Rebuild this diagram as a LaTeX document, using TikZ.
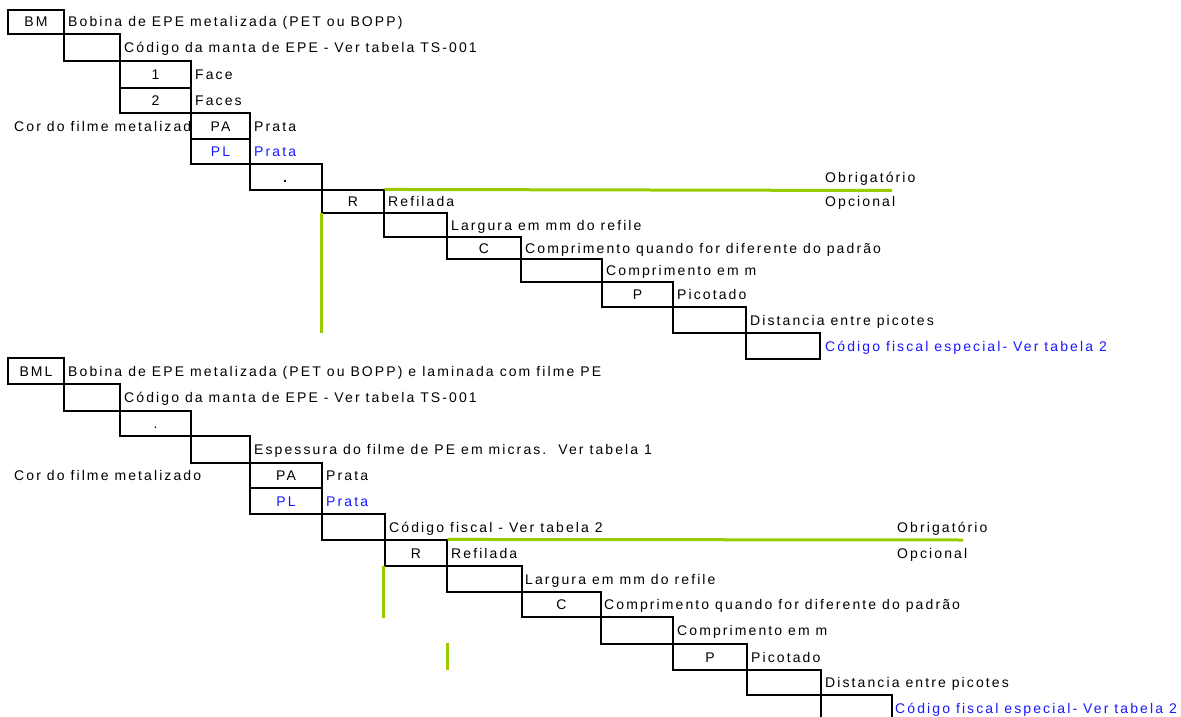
\documentclass[tikz,border=0pt]{standalone}
\usepackage{fontspec}
\setmainfont{Liberation Sans}[LetterSpace=15]
\definecolor{optgreen}{RGB}{153,204,0}
\definecolor{txtblue}{RGB}{25,25,255}
\begin{document}
\begin{tikzpicture}[x=1pt,y=-1pt,
  every node/.style={font=\fontsize{14}{16}\selectfont},
  box/.style={draw=black, line width=1.1pt, inner sep=0pt, text height=10pt, text depth=0pt, anchor=center},
  lbl/.style={anchor=west, inner sep=0pt, text height=10pt, text depth=0pt},
  bl/.style={text=txtblue},
  gline/.style={draw=optgreen, line width=3pt}]
\useasboundingbox (0,0) rectangle (1181,717);
\fill[white] (0,0) rectangle (1181,717);

% ---------------- Block 1 ----------------
\begin{scope}
\clip (0,100) rectangle (190.5,139);
\node[lbl] (a5) at (14,126) {Cor do filme metalizado};
\end{scope}
\node[box, minimum width=56pt, minimum height=24pt] (b1) at (36,22) {BM};
\node[box, minimum width=56pt, minimum height=27pt] (b2) at (92,47.5) {};
\node[box, minimum width=71pt, minimum height=27pt] (b3) at (155.5,74.5) {1};
\node[box, minimum width=71pt, minimum height=25pt] (b4) at (155.5,100.5) {2};
\node[box, minimum width=59pt, minimum height=26pt] (b5) at (220.5,126) {PA};
\node[box, bl, minimum width=59pt, minimum height=25pt] (b6) at (220.5,151.5) {PL};
\node[box, minimum width=72pt, minimum height=26pt] (b7) at (286,177) {\textbf{.}};
\node[box, minimum width=62pt, minimum height=23pt] (b8) at (353,201.5) {R};
\node[box, minimum width=63pt, minimum height=24pt] (b9) at (415.5,225) {};
\node[box, minimum width=74pt, minimum height=22pt] (b10) at (484,248) {C};
\node[box, minimum width=81pt, minimum height=23pt] (b11) at (561.5,270.5) {};
\node[box, minimum width=71pt, minimum height=25pt] (b12) at (637.5,294.5) {P};
\node[box, minimum width=73pt, minimum height=26pt] (b13) at (709.5,320) {};
\node[box, minimum width=74pt, minimum height=26pt] (b14) at (783,346) {};

\node[lbl] (a1) at (68,22) {Bobina de EPE metalizada (PET ou BOPP)};
\node[lbl] (a2) at (124,47.5) {Código da manta de EPE - Ver tabela TS-001};
\node[lbl] (a3) at (195,74.5) {Face};
\node[lbl] (a4) at (195,100.5) {Faces};
\node[lbl] (a6) at (254,126) {Prata};
\node[lbl, bl] (a7) at (254,151.5) {Prata};
\node[lbl] (a8) at (825,177) {Obrigatório};
\node[lbl] (a9) at (388,201.5) {Refilada};
\node[lbl] (a10) at (825,201.5) {Opcional};
\node[lbl] (a11) at (451,225) {Largura em mm do refile};
\node[lbl] (a12) at (525,248) {Comprimento quando for diferente do padrão};
\node[lbl] (a13) at (606,270.5) {Comprimento em m};
\node[lbl] (a14) at (677,294.5) {Picotado};
\node[lbl] (a15) at (750,320) {Distancia entre picotes};
\node[lbl, bl] (a16) at (825,346) {Código fiscal especial- Ver tabela 2};

\coordinate (g1e) at (892,190.5);
\coordinate (v1s) at (321,213);
\coordinate (v1e) at (321,333);
\draw[gline] (b8.north east) -- (g1e);
\draw[gline] (v1s) -- (v1e);

% ---------------- Block 2 ----------------
\node[box, minimum width=56pt, minimum height=26pt] (c1) at (36,371) {BML};
\node[box, minimum width=56pt, minimum height=27pt] (c2) at (92,397.5) {};
\node[box, minimum width=71pt, minimum height=25pt] (c3) at (155.5,423.5) {.};
\node[box, minimum width=59pt, minimum height=27pt] (c4) at (220.5,449.5) {};
\node[box, minimum width=72pt, minimum height=25pt] (c5) at (286,475.5) {PA};
\node[box, bl, minimum width=72pt, minimum height=26pt] (c6) at (286,501) {PL};
\node[box, minimum width=63pt, minimum height=26pt] (c7) at (353.5,527) {};
\node[box, minimum width=62pt, minimum height=26pt] (c8) at (416,553) {R};
\node[box, minimum width=75pt, minimum height=26pt] (c9) at (484.5,579) {};
\node[box, minimum width=79pt, minimum height=25pt] (c10) at (561.5,604.5) {C};
\node[box, minimum width=72pt, minimum height=27pt] (c11) at (637,630.5) {};
\node[box, minimum width=74pt, minimum height=26pt] (c12) at (710,657) {P};
\node[box, minimum width=74pt, minimum height=25pt] (c13) at (784,682.5) {};
\node[box, minimum width=71pt, minimum height=28pt] (c14) at (856.5,709) {};

\node[lbl] (d1) at (68,371) {Bobina de EPE metalizada (PET ou BOPP) e laminada com filme PE};
\node[lbl] (d2) at (124,397.5) {Código da manta de EPE - Ver tabela TS-001};
\node[lbl] (d3) at (254,449.5) {Espessura do filme de PE em micras.\ \ Ver tabela 1};
\node[lbl] (d4) at (14,475.5) {Cor do filme metalizado};
\node[lbl] (d5) at (326,475.5) {Prata};
\node[lbl, bl] (d6) at (326,501) {Prata};
\node[lbl] (d7) at (389,527) {Código fiscal - Ver tabela 2};
\node[lbl] (d8) at (897,527) {Obrigatório};
\node[lbl] (d9) at (451,553) {Refilada};
\node[lbl] (d10) at (897,553) {Opcional};
\node[lbl] (d11) at (525,579) {Largura em mm do refile};
\node[lbl] (d12) at (604,604.5) {Comprimento quando for diferente do padrão};
\node[lbl] (d13) at (677,630.5) {Comprimento em m};
\node[lbl] (d14) at (751,657) {Picotado};
\node[lbl] (d15) at (825,682.5) {Distancia entre picotes};
\node[lbl, bl] (d16) at (895,708) {Código fiscal especial- Ver tabela 2};

\coordinate (g2e) at (963,540);
\coordinate (v2s) at (383,566);
\coordinate (v2e) at (383,618);
\coordinate (v3s) at (447,643);
\coordinate (v3e) at (447,670);
\draw[gline] (c8.north east) -- (g2e);
\draw[gline] (v2s) -- (v2e);
\draw[gline] (v3s) -- (v3e);
\end{tikzpicture}
\end{document}
